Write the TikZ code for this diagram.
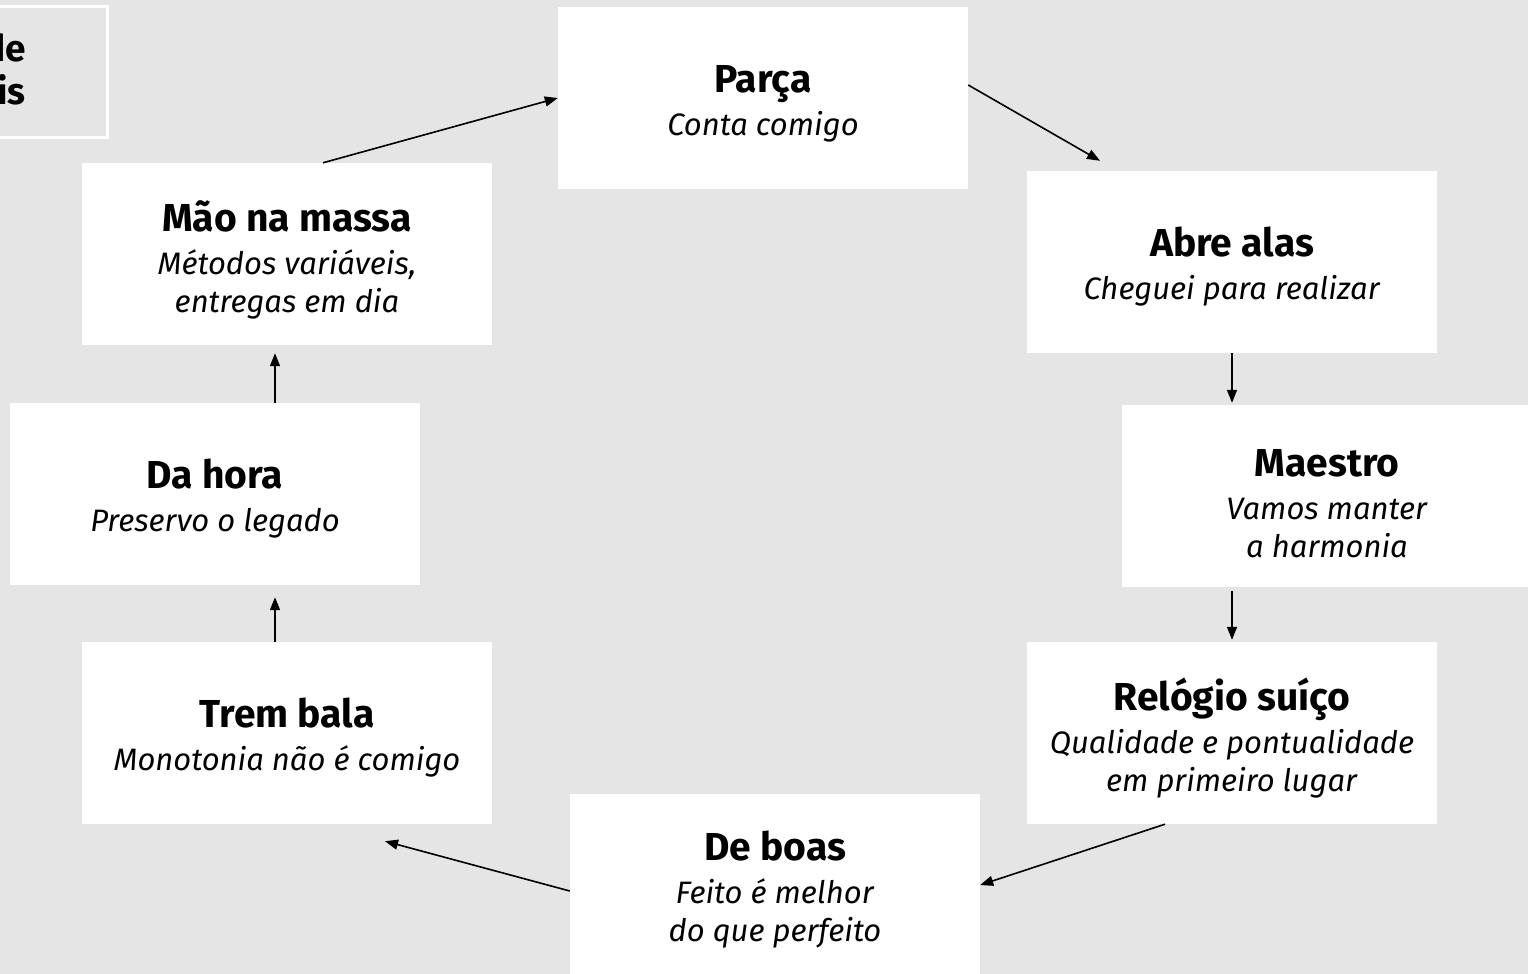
\documentclass[tikz,border=0pt]{standalone}
\usepackage{fontspec}
\setmainfont{Fira Sans}
\usetikzlibrary{arrows.meta,calc}
\definecolor{bggray}{HTML}{E5E5E5}
\tikzset{
  box/.style={fill=white, draw=none, minimum width=410pt, minimum height=182pt, inner sep=0pt, align=center, font=\fontsize{31}{38}\selectfont},
  txt/.style={inner sep=0pt, align=center, font=\fontsize{31}{38}\selectfont},
  conn/.style={line width=1.6pt, -{Triangle[length=13pt,width=10pt]}},
  cut/.style={anchor=east, inner sep=0pt, font=\bfseries\fontsize{37}{40}\selectfont},
}
\newcommand{\ttl}[1]{{\bfseries\fontsize{39}{38}\selectfont #1}\\[5pt]}
\begin{document}
\begin{tikzpicture}[x=1pt,y=-1pt]
\fill[bggray] (0,0) rectangle (1528,974);
\useasboundingbox (0,0) rectangle (1528,974);
% partial box top-left
\draw[white, line width=3pt, fill=bggray] (-20,7) rectangle (107,137);
\node[cut] (tl1) at (26,48) {de};
\node[cut] (tl2) at (26,90) {is};

\node[box] (parca) at (763,98) {};
\node[box] (abre) at (1232,262) {};
\node[box, minimum width=420pt] (maestro) at (1332,496) {};
\node[box] (relogio) at (1232,733) {};
\node[box] (deboas) at (775,885) {};
\node[box] (trem) at (287,733) {};
\node[box] (dahora) at (215,494) {};
\node[box] (mao) at (287,254) {};

\node[txt] (parcat) at (763,104) {\ttl{Parça}\textit{Conta comigo}};
\node[txt] (abret) at (1232,267) {\ttl{Abre alas}\textit{Cheguei para realizar}};
\node[txt] (maestrot) at (1327,504) {\ttl{Maestro}\textit{Vamos manter}\\\textit{a harmonia}};
\node[txt] (relogiot) at (1232,738) {\ttl{Relógio suíço}\textit{Qualidade e pontualidade}\\\textit{em primeiro lugar}};
\node[txt] (deboast) at (775,890) {\ttl{De boas}\textit{Feito é melhor}\\\textit{do que perfeito}};
\node[txt] (tremt) at (287,738) {\ttl{Trem bala}\textit{Monotonia não é comigo}};
\node[txt] (dahorat) at (215,499) {\ttl{Da hora}\textit{Preservo o legado}};
\node[txt] (maot) at (287,260) {\ttl{Mão na massa}\textit{Métodos variáveis,}\\\textit{entregas em dia}};

% connectors
\draw[conn] ([xshift=36pt]mao.north) -- (parca.west);
\draw[conn] ([yshift=13pt]parca.east) -- ([xshift=-132pt,yshift=10pt]abre.north);
\draw[conn] (abre.south) -- ([yshift=2pt]abre.south |- maestro.north);
\draw[conn] ([yshift=-4pt]abre.south |- maestro.south) -- ([yshift=2pt]abre.south |- relogio.north);
\draw[conn] ([xshift=-67pt]relogio.south) -- (deboas.east);
\draw[conn] ([yshift=-6pt]deboas.west) -- ([xshift=98pt,yshift=-17pt]trem.south);
\draw[conn] ([xshift=-12pt]trem.north) -- ([xshift=-12pt,yshift=-12pt]trem.north |- dahora.south);
\draw[conn] ([xshift=60pt]dahora.north) -- ([xshift=60pt,yshift=-8pt]dahora.north |- mao.south);
\end{tikzpicture}
\end{document}
